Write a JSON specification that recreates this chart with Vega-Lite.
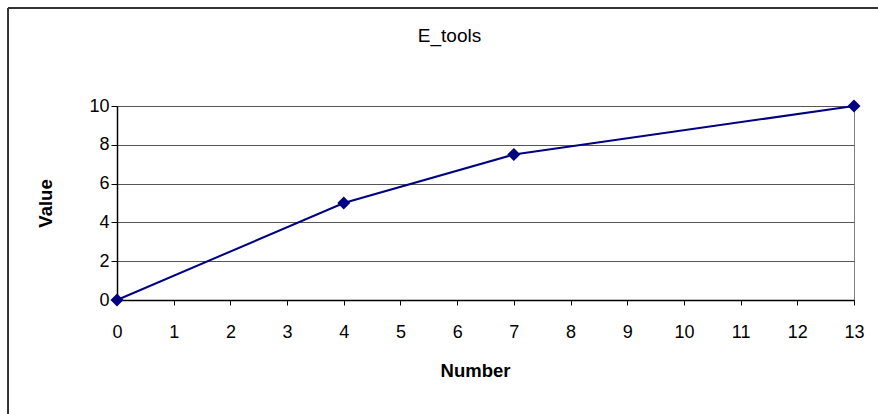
{
  "$schema": "https://vega.github.io/schema/vega-lite/v6.json",
  "width": 737,
  "height": 194,
  "autosize": "none",
  "padding": {"left": 117, "top": 106, "right": 24, "bottom": 114},
  "background": "white",
  "config": {
    "view": {"stroke": "#808080", "strokeWidth": 1},
    "font": "Liberation Sans",
    "axisX": {
      "grid": false,
      "domainColor": "black",
      "domainWidth": 1.5,
      "tickColor": "black",
      "tickSize": 5,
      "labelFontSize": 18,
      "labelColor": "black",
      "labelPadding": 18,
      "labelFont": "Liberation Sans",
      "labelOverlap": false,
      "labelFlush": false,
      "titleFont": "Liberation Sans",
      "titleFontSize": 18.5,
      "titleFontWeight": "bold",
      "titleColor": "black",
      "titlePadding": 20,
      "titleX": 358
    },
    "axisY": {
      "grid": true,
      "gridColor": "#555555",
      "gridWidth": 1,
      "domainColor": "black",
      "domainWidth": 1.5,
      "tickColor": "black",
      "tickSize": 6,
      "labelFontSize": 18,
      "labelColor": "black",
      "labelPadding": 2,
      "labelFont": "Liberation Sans",
      "labelOverlap": false,
      "labelFlush": false,
      "titleFont": "Liberation Sans",
      "titleFontSize": 18.5,
      "titleFontWeight": "bold",
      "titleColor": "black",
      "titlePadding": 33
    }
  },
  "title": {
    "text": "E_tools",
    "fontSize": 19,
    "fontWeight": "normal",
    "font": "Liberation Sans",
    "color": "black",
    "anchor": "middle",
    "frame": "group",
    "dx": -36,
    "offset": -39
  },
  "data": {
    "values": [
      {"Number": 0, "Value": 0},
      {"Number": 4, "Value": 5},
      {"Number": 7, "Value": 7.5},
      {"Number": 13, "Value": 10}
    ]
  },
  "layer": [
    {
      "mark": {"type": "line", "color": "#000080", "strokeWidth": 2},
      "encoding": {
        "x": {
          "field": "Number",
          "type": "quantitative",
          "scale": {"domain": [0, 13], "nice": false, "zero": false},
          "axis": {"title": "Number", "values": [0, 1, 2, 3, 4, 5, 6, 7, 8, 9, 10, 11, 12, 13], "format": "d"}
        },
        "y": {
          "field": "Value",
          "type": "quantitative",
          "scale": {"domain": [0, 10], "nice": false},
          "axis": {"title": "Value", "values": [0, 2, 4, 6, 8, 10], "format": "d"}
        }
      }
    },
    {
      "mark": {"type": "point", "shape": "diamond", "filled": true, "color": "#000080", "size": 170, "opacity": 1},
      "encoding": {
        "x": {"field": "Number", "type": "quantitative", "axis": {"title": "Number", "values": [0, 1, 2, 3, 4, 5, 6, 7, 8, 9, 10, 11, 12, 13], "format": "d"}},
        "y": {"field": "Value", "type": "quantitative", "axis": {"title": "Value", "values": [0, 2, 4, 6, 8, 10], "format": "d"}}
      }
    },
    {
      "mark": {"type": "rule", "color": "#333333", "strokeWidth": 1.5, "clip": false},
      "encoding": {
        "x": {"datum": -1.92, "type": "quantitative", "axis": {"title": "Number", "values": [0, 1, 2, 3, 4, 5, 6, 7, 8, 9, 10, 11, 12, 13], "format": "d"}},
        "y": {"datum": 15.05, "type": "quantitative", "axis": {"title": "Value", "values": [0, 2, 4, 6, 8, 10], "format": "d"}},
        "y2": {"datum": -12}
      }
    },
    {
      "mark": {"type": "rule", "color": "#333333", "strokeWidth": 1.5, "clip": false},
      "encoding": {
        "x": {"datum": -1.92, "type": "quantitative", "axis": {"title": "Number", "values": [0, 1, 2, 3, 4, 5, 6, 7, 8, 9, 10, 11, 12, 13], "format": "d"}},
        "x2": {"datum": 16},
        "y": {"datum": 15.05, "type": "quantitative", "axis": {"title": "Value", "values": [0, 2, 4, 6, 8, 10], "format": "d"}}
      }
    }
  ]
}
